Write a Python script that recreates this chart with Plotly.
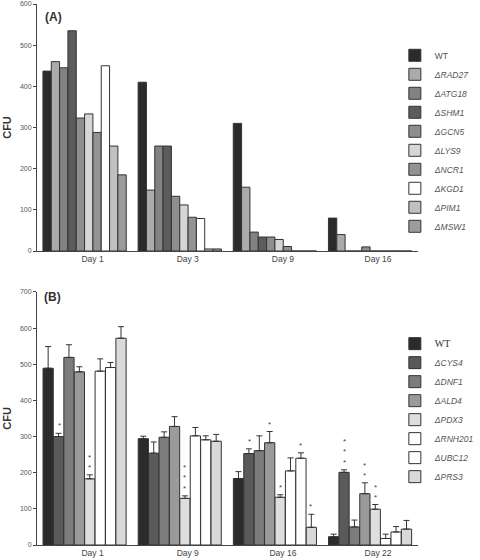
import plotly.graph_objects as go

# ---------------- Panel A data ----------------
days_a = ["Day 1", "Day 3", "Day 9", "Day 16"]
names_a = ["WT", "ΔRAD27", "ΔATG18", "ΔSHM1", "ΔGCN5", "ΔLYS9", "ΔNCR1", "ΔKGD1", "ΔPIM1", "ΔMSW1"]
wt_a     = [437, 410, 310, 80]
rad27_a  = [460, 148, 155, 40]
atg18_a  = [445, 255, 46, 0]
shm1_a   = [535, 255, 34, 0]
gcn5_a   = [323, 133, 34, 10]
lys9_a   = [333, 112, 28, 0]
ncr1_a   = [288, 82, 11, 0]
kgd1_a   = [450, 79, 0, 0]
pim1_a   = [255, 5, 0, 0]
msw1_a   = [185, 5, 0, 0]
series_a = [wt_a, rad27_a, atg18_a, shm1_a, gcn5_a, lys9_a, ncr1_a, kgd1_a, pim1_a, msw1_a]
colors_a = ["#2b2b2b", "#ababab", "#828282", "#5c5c5c", "#8e8e8e",
            "#d6d6d6", "#939393", "#ffffff", "#c0c0c0", "#9c9c9c"]

# ---------------- Panel B data ----------------
days_b = ["Day 1", "Day 9", "Day 16", "Day 22"]
names_b = ["WT", "ΔCYS4", "ΔDNF1", "ΔALD4", "ΔPDX3", "ΔRNH201", "ΔUBC12", "ΔPRS3"]
wt_b     = [489, 294, 184, 23]
cys4_b   = [300, 254, 253, 201]
dnf1_b   = [519, 298, 261, 50]
ald4_b   = [479, 328, 283, 142]
pdx3_b   = [183, 129, 132, 99]
rnh201_b = [481, 302, 205, 18]
ubc12_b  = [491, 291, 240, 36]
prs3_b   = [572, 287, 49, 44]
series_b = [wt_b, cys4_b, dnf1_b, ald4_b, pdx3_b, rnh201_b, ubc12_b, prs3_b]
# upper error (error bar top minus bar top)
err_wt_b     = [60, 7, 19, 7]
err_cys4_b   = [9, 31, 13, 7]
err_dnf1_b   = [35, 15, 41, 19]
err_ald4_b   = [14, 27, 31, 30]
err_pdx3_b   = [11, 7, 7, 13]
err_rnh201_b = [34, 23, 36, 12]
err_ubc12_b  = [14, 11, 15, 15]
err_prs3_b   = [32, 19, 36, 24]
errors_b = [err_wt_b, err_cys4_b, err_dnf1_b, err_ald4_b, err_pdx3_b,
            err_rnh201_b, err_ubc12_b, err_prs3_b]
# significance stars
stars_b = [
    ["", "", "", ""],
    ["*", "", "*", "***"],
    ["", "", "", ""],
    ["", "", "*", "**"],
    ["**", "***", "*", "**"],
    ["", "", "", ""],
    ["", "", "*", ""],
    ["", "", "*", ""],
]
colors_b = ["#2b2b2b", "#5a5a5a", "#7c7c7c", "#9a9a9a", "#dedede",
            "#ffffff", "#ffffff", "#d9d9d9"]

LINE = "#333333"
SANS = "Liberation Sans, Arial, sans-serif"

fig = go.Figure()

for name, vals, col in zip(names_a, series_a, colors_a):
    label = name if name == "WT" else "<i>" + name + "</i>"
    fig.add_trace(go.Bar(
        x=days_a, y=vals, name=label, marker=dict(color=col, line=dict(color=LINE, width=1)),
        xaxis="x", yaxis="y", legend="legend"))

for name, vals, errs, col in zip(names_b, series_b, errors_b, colors_b):
    label = ("<span style='font-family:Liberation Serif;font-size:10px;color:#333'>WT</span>"
             if name == "WT" else "<i>" + name + "</i>")
    fig.add_trace(go.Bar(
        x=days_b, y=vals, name=label, marker=dict(color=col, line=dict(color=LINE, width=1)),
        error_y=dict(type="data", symmetric=False, array=errs, arrayminus=[0] * len(errs),
                     color=LINE, thickness=1, width=3),
        xaxis="x2", yaxis="y2", legend="legend2"))

GAP_A = 0.125
GAP_B = 0.14

annotations = []
nb = len(series_b)
bw = (1 - GAP_B) / nb
for j, (vals, errs, st) in enumerate(zip(series_b, errors_b, stars_b)):
    for i, s in enumerate(st):
        if not s:
            continue
        xpos = i - (1 - GAP_B) / 2 + (j + 0.5) * bw
        annotations.append(dict(
            x=xpos, y=vals[i] + errs[i], xref="x2", yref="y2",
            text="<br>".join(list(s)), showarrow=False, yanchor="bottom",
            yshift=1, font=dict(size=8, color="#444", family=SANS)))

annotations.append(dict(x=0.014, y=0.993, xref="paper", yref="paper", text="<b>(A)</b>",
                        showarrow=False, xanchor="left", yanchor="top",
                        font=dict(size=12, color="#333", family=SANS)))
annotations.append(dict(x=0.012, y=0.475, xref="paper", yref="paper", text="<b>(B)</b>",
                        showarrow=False, xanchor="left", yanchor="top",
                        font=dict(size=12, color="#333", family=SANS)))

XDOM = [0, 385 / 443]
xcommon = dict(showline=True, linecolor="#444", linewidth=1, ticks="", showgrid=False,
               tickfont=dict(size=8.5, color="#444", family=SANS), ticklabelshift=8,
               ticklabelstandoff=0, automargin=False)
ycommon = dict(showline=True, linecolor="#444", linewidth=1, ticks="outside", ticklen=3,
               tickcolor="#444", showgrid=False, zeroline=False, automargin=False,
               tickfont=dict(size=7, color="#555", family=SANS),
               title=dict(text="<b>CFU</b>", font=dict(size=11, color="#333", family=SANS),
                          standoff=6))

fig.update_layout(
    width=480, height=560,
    margin=dict(l=37, r=0, t=4, b=15),
    paper_bgcolor="white", plot_bgcolor="white",
    barmode="group",
    bargap=GAP_A,
    xaxis=dict(domain=XDOM, anchor="y", **xcommon),
    yaxis=dict(domain=[0.5434, 1], anchor="x", range=[0, 600], dtick=100, **ycommon),
    xaxis2=dict(domain=XDOM, anchor="y2", **xcommon),
    yaxis2=dict(domain=[0, 0.4677], anchor="x2", range=[0, 700], dtick=100, **ycommon),
    legend=dict(x=0.817, y=0.932, xanchor="left", yanchor="top",
                font=dict(size=8.5, color="#555", family=SANS), bgcolor="rgba(0,0,0,0)"),
    legend2=dict(x=0.817, y=0.399, xanchor="left", yanchor="top",
                 font=dict(size=8.5, color="#555", family=SANS), bgcolor="rgba(0,0,0,0)"),
    annotations=annotations,
    showlegend=True,
)
for tr in fig.data:
    if tr.xaxis == "x2":
        tr.width = bw

fig.write_html("out.html", config={"displayModeBar": False},
               post_script="document.body.style.margin='0';")
